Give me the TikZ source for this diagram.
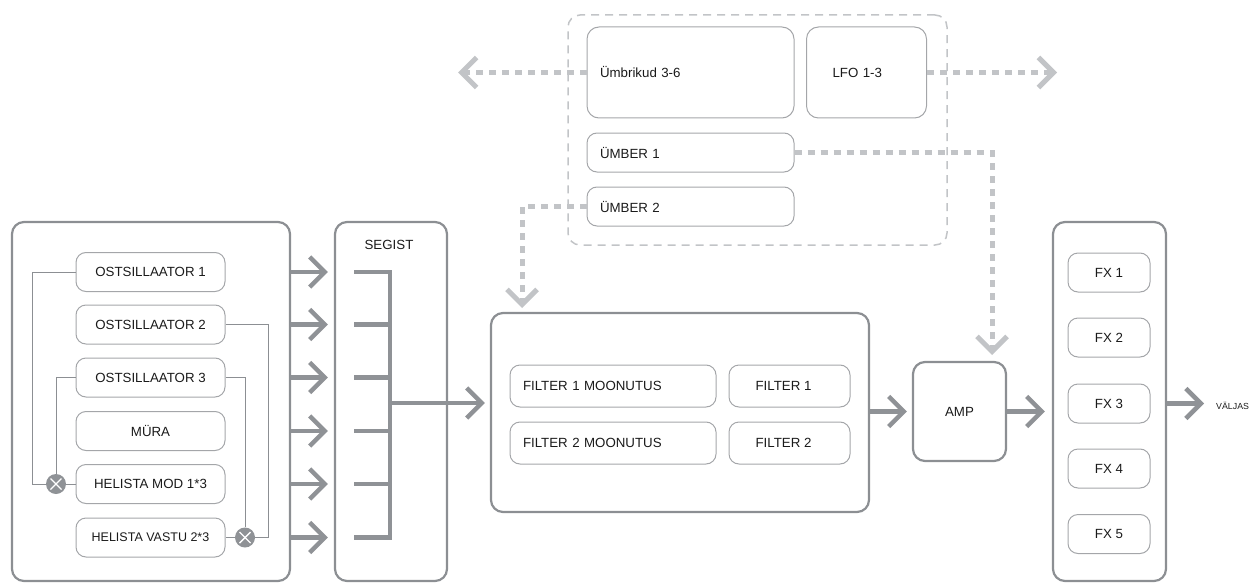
\documentclass[tikz,border=0pt]{standalone}
\usepackage{fontspec}
\setmainfont{Liberation Sans}
\usetikzlibrary{arrows.meta,calc}
\definecolor{framegray}{HTML}{8C8F93}
\definecolor{boxgray}{HTML}{A4A6A9}
\definecolor{flowgray}{HTML}{8F9296}
\definecolor{modgray}{HTML}{C2C4C7}
\definecolor{txt}{HTML}{1A1A1A}
\begin{document}
\begin{tikzpicture}[x=1pt,y=-1pt,
  every node/.style={text=txt, font=\fontsize{13.3}{15}\selectfont},
  group/.style={draw=framegray, line width=2.2pt, rounded corners=12pt,
    inner sep=0pt},
  unit/.style={draw=boxgray, line width=1pt, rounded corners=10pt,
    inner sep=0pt},
  leftunit/.style={unit, align=left, text width=#1, inner xsep=13pt, inner ysep=0pt},
  flow/.style={draw=flowgray, line width=4.5pt,
    -{Straight Barb[length=15pt,width=30pt]}},
  modflow/.style={draw=modgray, line width=5pt, dash pattern=on 7pt off 6pt,
    -{Straight Barb[length=15pt,width=30pt]}},
  wire/.style={draw=framegray, line width=1pt},
  ringmod/.style={circle, fill=flowgray, minimum size=20pt, inner sep=0pt},
  bus/.style={draw=flowgray, line width=4.5pt, line join=miter}
]
\useasboundingbox (0,0) rectangle (1257,583);

% --- oscillator section ---
\node[group, minimum width=278pt, minimum height=359pt] (osc) at (151,401.5) {};
\foreach \n/\y/\t in {o1/272/OSTSILLAATOR 1, o2/324.5/OSTSILLAATOR 2,
    o3/377.5/OSTSILLAATOR 3, o4/431/MÜRA, o5/484/HELISTA MOD 1*3}
  \node[unit, minimum width=149pt, minimum height=39pt] (\n) at (150.5,\y) {\t};
\node[unit, minimum width=149pt, minimum height=39pt,
  font=\fontsize{12.5}{14}\selectfont] (o6) at (150.5,537.5) {HELISTA VASTU 2*3};

% ring modulators
\node[ringmod] (m1) at (56,484) {};
\node[ringmod] (m2) at (245,537.5) {};
\foreach \m in {m1,m2}{
  \draw[white, line width=1.4pt] ($(\m)+(-5.5,-5.5)$) -- ($(\m)+(5.5,5.5)$);
  \draw[white, line width=1.4pt] ($(\m)+(-5.5,5.5)$) -- ($(\m)+(5.5,-5.5)$);
}
\draw[wire] (o1.west) -- ++(-43,0) |- (m1.west);
\draw[wire] (o3.west) -| (m1.north);
\draw[wire] (m1.east) -- (o5.west);
\draw[wire] (o2.east) -- ++(43,0) |- (m2.east);
\draw[wire] (o3.east) -| (m2.north);
\draw[wire] (m2.west) -- (o6.west -| o6.east);

% --- mixer ---
\node[group, minimum width=112pt, minimum height=359pt] (mix) at (391,401.5) {};
\node (mixtitle) at (389,245) {SEGIST};
\foreach \n in {o1,o2,o3,o4,o5,o6}
  \draw[flow, shorten >=6pt] (\n -| osc.east) -- (\n -| mix.west);
\coordinate (stubL) at (354,0);
\coordinate (busx) at (390,0);
\draw[bus] (stubL |- o1) -- (busx |- o1) -- (busx |- o6) -- (stubL |- o6);
\foreach \n in {o2,o3,o4,o5}
  \draw[bus] (stubL |- \n) -- (busx |- \n);
\coordinate (busout) at (390,403);

% --- filters ---
\node[group, minimum width=378pt, minimum height=199pt] (filt) at (680,412.5) {};
\node[leftunit=180pt, minimum height=42pt] (fm1) at (613,386) {FILTER 1 MOONUTUS};
\node[leftunit=180pt, minimum height=42pt] (fm2) at (613,443) {FILTER 2 MOONUTUS};
\node[unit, minimum width=121pt, minimum height=42pt] (f1) at (789.5,386) {\hspace*{-12pt}FILTER 1};
\node[unit, minimum width=121pt, minimum height=42pt] (f2) at (789.5,443) {\hspace*{-12pt}FILTER 2};
\draw[flow, shorten >=5pt] (busout) -- (busout -| filt.west);

% --- amplifier ---
\node[group, minimum width=93pt, minimum height=99pt] (amp) at (959.5,411.5) {AMP};
\draw[flow, shorten >=5pt] (filt.east |- amp) -- (amp.west);

% --- effects ---
\node[group, minimum width=113pt, minimum height=359pt] (fx) at (1109.5,401.5) {};
\foreach \n/\y/\t in {fx1/272.5/FX 1, fx2/337.5/FX 2, fx3/403.5/FX 3,
    fx4/468.5/FX 4, fx5/534/FX 5}
  \node[unit, minimum width=82pt, minimum height=39pt] (\n) at (1109,\y) {\t};
\draw[flow, shorten >=7pt] (amp.east) -- (amp.east -| fx.west);
\coordinate (outtip) at (1204,403.5);
\draw[flow] (fx.east |- outtip) -- (outtip);
\node[anchor=west, inner sep=0pt, font=\fontsize{8.8}{10}\selectfont] (out) at (1216,406) {VÄLJAS};

% --- modulation sources ---
\node[draw=modgray, line width=1.5pt, dash pattern=on 8pt off 6pt,
  rounded corners=12pt, minimum width=379pt, minimum height=230pt] (modgrp) at (757.5,130) {};
\node[leftunit=181pt, minimum height=91pt, rounded corners=12pt] (env) at (690.5,72.5) {Ümbrikud 3-6};
\node[leftunit=94pt, minimum height=91pt, rounded corners=12pt] (lfo) at (866.5,72.5) {\hspace*{13pt}LFO 1-3};
\node[leftunit=181pt, minimum height=39pt] (mod1) at (690.5,152.5) {ÜMBER 1};
\node[leftunit=181pt, minimum height=39pt] (mod2) at (690.5,206.5) {ÜMBER 2};

\coordinate (envtip) at (458,72.5);
\coordinate (lfotip) at (1057,72.5);
\coordinate (ampin) at (992,355);
\coordinate (filtin) at (522,308);
\draw[modflow] (env.west) -- (envtip);
\draw[modflow] (lfo.east) -- (lfotip);
\draw[modflow] (mod1.east) -| (ampin);
\draw[modflow] (mod2.west) -| (filtin);
\end{tikzpicture}
\end{document}
